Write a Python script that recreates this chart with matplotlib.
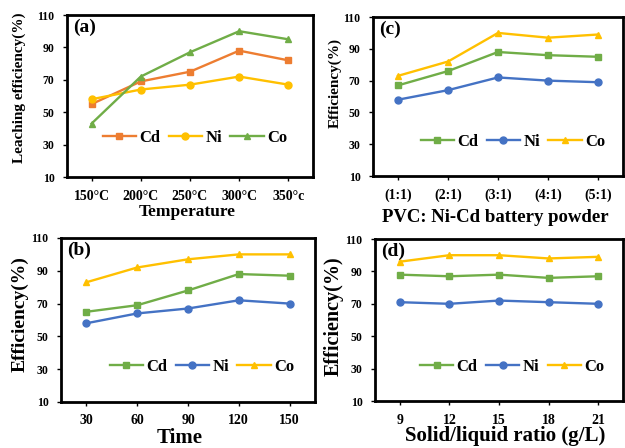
import matplotlib
matplotlib.use('Agg')
import matplotlib.pyplot as plt

# ---- data ----
temps = ['150°C', '200°C', '250°C', '300°C', '350°c']
cd_a = [55, 69, 75, 88, 82]
ni_a = [58, 64, 67, 72, 67]
co_a = [43, 72, 87, 100, 95]

ratios = ['(1:1)', '(2:1)', '(3:1)', '(4:1)', '(5:1)']
cd_c = [67, 76, 88, 86, 85]
ni_c = [58, 64, 72, 70, 69]
co_c = [73, 82, 100, 97, 99]

times = ['30', '60', '90', '120', '150']
cd_b = [65, 69, 78, 88, 87]
ni_b = [58, 64, 67, 72, 70]
co_b = [83, 92, 97, 100, 100]

sl_ratio = ['9', '12', '15', '18', '21']
cd_d = [88, 87, 88, 86, 87]
ni_d = [71, 70, 72, 71, 70]
co_d = [96, 100, 100, 98, 99]

yticks = [10, 30, 50, 70, 90, 110]

ORANGE = '#ED7D31'
YELLOW = '#FFC000'
GREEN = '#70AD47'
BLUE = '#4472C4'

plt.rcParams['font.family'] = ['Liberation Serif', 'DejaVu Serif']
plt.rcParams['font.weight'] = 'bold'


def panel(rect, cats, series, letter, ylab, ylsize, ylpos, xlab, xlsize, xlpos, legpos):
    ax = fig.add_axes(rect)
    x = range(len(cats))
    for vals, name, col, mk in series:
        ax.plot(x, vals, color=col, marker=mk, markersize=5, linewidth=1.7, label=name)
    ax.set_xlim(-0.5, len(cats) - 0.5)
    ax.set_ylim(10, 110)
    ax.set_yticks(yticks)
    ax.set_xticks(list(x))
    ax.set_xticklabels(cats, fontsize=10, fontweight='bold')
    ax.set_yticklabels([str(v) for v in yticks], fontsize=8.5, fontweight='bold')
    ax.tick_params(axis='x', direction='out', length=3, width=1, pad=6)
    ax.tick_params(axis='y', direction='out', length=3, width=1, pad=6)
    for s in ax.spines.values():
        s.set_linewidth(2.0)
    ax.set_ylabel(ylab, fontsize=ylsize, fontweight='bold', va='center')
    ax.yaxis.set_label_coords(*ylpos)
    ax.set_xlabel(xlab, fontsize=xlsize, fontweight='bold', va='center')
    ax.xaxis.set_label_coords(*xlpos)
    ax.text(0.025, 0.975, letter, transform=ax.transAxes, fontsize=14,
            fontweight='bold', va='top', ha='left')
    ax.legend(loc='center', bbox_to_anchor=legpos, ncol=3, frameon=False,
              prop=dict(family='Liberation Serif', weight='bold', size=12),
              handlelength=2.0, handletextpad=0.2, columnspacing=0.5)
    return ax


fig = plt.figure(figsize=(6.25, 4.48), dpi=100)

panel([0.1072, 0.6049, 0.3936, 0.3616], temps,
      [(cd_a, 'Cd', ORANGE, 's'), (ni_a, 'Ni', YELLOW, 'o'), (co_a, 'Co', GREEN, '^')],
      '(a)', 'Leaching efficiency(%)', 11, (-0.195, 0.55),
      'Temperature', 12.5, (0.49, -0.216), (0.52, 0.24))

panel([0.5968, 0.6071, 0.40, 0.3549], ratios,
      [(cd_c, 'Cd', GREEN, 's'), (ni_c, 'Ni', BLUE, 'o'), (co_c, 'Co', YELLOW, '^')],
      '(c)', 'Efficiency(%)', 11, (-0.152, 0.585),
      'PVC: Ni-Cd battery powder', 13.5, (0.49, -0.264), (0.56, 0.214))

panel([0.0976, 0.1027, 0.4064, 0.3661], times,
      [(cd_b, 'Cd', GREEN, 's'), (ni_b, 'Ni', BLUE, 'o'), (co_b, 'Co', YELLOW, '^')],
      '(b)', 'Efficiency(%)', 14, (-0.161, 0.537),
      'Time', 15, (0.468, -0.22), (0.555, 0.213))

panel([0.60, 0.1049, 0.3968, 0.3616], sl_ratio,
      [(cd_d, 'Cd', GREEN, 's'), (ni_d, 'Ni', BLUE, 'o'), (co_d, 'Co', YELLOW, '^')],
      '(d)', 'Efficiency(%)', 14.5, (-0.165, 0.525),
      'Solid/liquid ratio (g/L)', 15, (0.524, -0.216), (0.553, 0.21))

plt.savefig('out.png', dpi=100)
